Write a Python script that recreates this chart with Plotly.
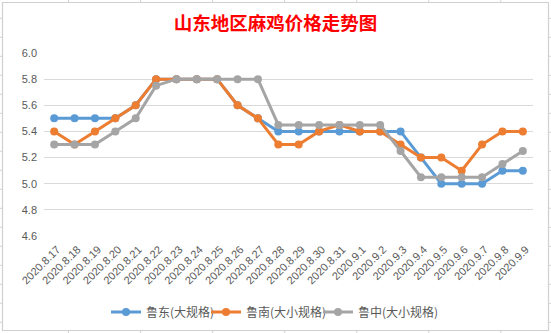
import plotly.graph_objects as go

dates = ["2020.8.17", "2020.8.18", "2020.8.19", "2020.8.20", "2020.8.21", "2020.8.22",
         "2020.8.23", "2020.8.24", "2020.8.25", "2020.8.26", "2020.8.27", "2020.8.28",
         "2020.8.29", "2020.8.30", "2020.8.31", "2020.9.1", "2020.9.2", "2020.9.3",
         "2020.9.4", "2020.9.5", "2020.9.6", "2020.9.7", "2020.9.8", "2020.9.9"]

ludong = [5.5, 5.5, 5.5, 5.5, 5.6, 5.8, 5.8, 5.8, 5.8, 5.6, 5.5, 5.4,
          5.4, 5.4, 5.4, 5.4, 5.4, 5.4, 5.2, 5.0, 5.0, 5.0, 5.1, 5.1]
lunan = [5.4, 5.3, 5.4, 5.5, 5.6, 5.8, 5.8, 5.8, 5.8, 5.6, 5.5, 5.3,
         5.3, 5.4, 5.45, 5.4, 5.4, 5.3, 5.2, 5.2, 5.1, 5.3, 5.4, 5.4]
luzhong = [5.3, 5.3, 5.3, 5.4, 5.5, 5.75, 5.8, 5.8, 5.8, 5.8, 5.8, 5.45,
           5.45, 5.45, 5.45, 5.45, 5.45, 5.25, 5.05, 5.05, 5.05, 5.05, 5.15, 5.25]

series_names = ["鲁东(大规格)", "鲁南(大小规格)", "鲁中(大小规格)"]
colors = ["#5B9BD5", "#ED7D31", "#A5A5A5"]
title_text = "山东地区麻鸡价格走势图"
y_ticks = [4.6, 4.8, 5.0, 5.2, 5.4, 5.6, 5.8, 6.0]

W, H = 551, 333
L, R, T, B = 44, 18, 53, 97
PW, PH = W - L - R, H - T - B

def px(x):
    return (x - L) / PW

def py(y):
    return (H - B - y) / PH

legend_ids = ["legend", "legend2", "legend3"]
legend_left = [106, 206, 318]

fig = go.Figure()
for name, vals, c, lg in zip(series_names, [ludong, lunan, luzhong], colors, legend_ids):
    fig.add_trace(go.Scatter(
        x=dates, y=vals, name=name, mode="lines+markers",
        line=dict(color=c, width=3),
        marker=dict(color=c, size=8),
        legend=lg,
    ))

shapes = []
grid_c = "#D4D4D4"
# spreadsheet grid behind the chart
for k in range(8):
    xv = 68.5 + 72.05 * k
    shapes.append(dict(type="line", xref="paper", yref="paper", layer="below",
                       x0=px(xv), x1=px(xv), y0=py(0), y1=py(H),
                       line=dict(color=grid_c, width=1)))
for k in range(18):
    yv = 18.3 + 19.0 * k
    shapes.append(dict(type="line", xref="paper", yref="paper", layer="below",
                       x0=px(0), x1=px(W), y0=py(yv), y1=py(yv),
                       line=dict(color=grid_c, width=1)))
# chart area
shapes.append(dict(type="rect", xref="paper", yref="paper", layer="below",
                   x0=px(2.5), x1=px(548.5), y0=py(330.5), y1=py(2.5),
                   fillcolor="white", line=dict(color="#D0D0D0", width=1.2)))

leg_common = dict(orientation="h", yanchor="middle", y=py(312), xanchor="left",
                  font=dict(family="Noto Sans CJK SC", size=12, color="#595959"),
                  bgcolor="rgba(0,0,0,0)", itemwidth=30)

layout_kwargs = {}
for lg, xl in zip(legend_ids, legend_left):
    layout_kwargs[lg] = dict(leg_common, x=px(xl))

fig.update_layout(
    width=W, height=H,
    margin=dict(l=L, r=R, t=T, b=B, autoexpand=False),
    paper_bgcolor="white", plot_bgcolor="rgba(0,0,0,0)",
    title=dict(text=title_text, x=0.5, xref="container", xanchor="center",
               y=1 - 24 / H, yref="container", yanchor="middle",
               font=dict(family="Noto Sans CJK SC", size=18.5, color="#FF0000", weight="bold")),
    xaxis=dict(type="category", range=[-0.5, 23.5], tickangle=-45,
               showgrid=False, zeroline=False, showline=False, ticks="",
               ticklabelstandoff=4, ticklabelshift=3, automargin=False,
               tickfont=dict(family="Liberation Sans", size=11, color="#595959")),
    yaxis=dict(range=[4.6, 6.0], tickvals=y_ticks, ticktext=[f"{v:.1f}" for v in y_ticks],
               showgrid=True, gridcolor="#D9D9D9", gridwidth=1, zeroline=False,
               showline=False, ticks="", ticklabelstandoff=6, automargin=False,
               tickfont=dict(family="Liberation Sans", size=11, color="#595959")),
    shapes=shapes,
    showlegend=True,
    **layout_kwargs,
)

fig.write_html("out.html")
